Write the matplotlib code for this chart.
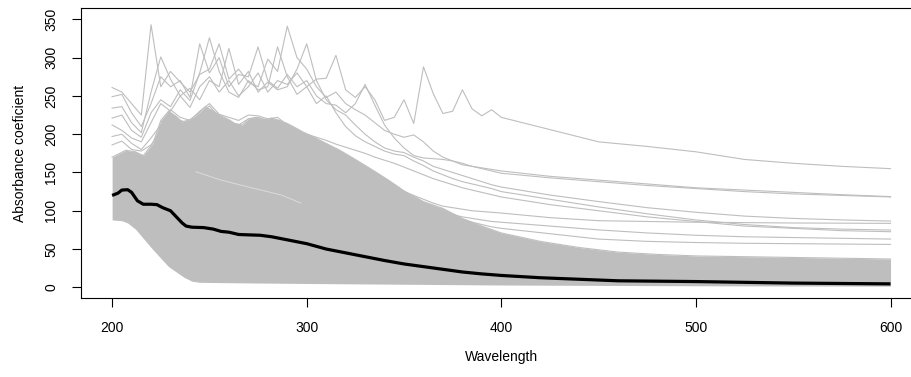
import numpy as np
import matplotlib
matplotlib.use('Agg')
import matplotlib.pyplot as plt

plt.rcParams['font.family'] = ['Liberation Sans', 'DejaVu Sans']

# sampled wavelengths for the individual spectra
wl_grid = np.concatenate([np.arange(200, 401, 5), np.arange(425, 601, 25)])
wl_late = wl_grid[wl_grid >= 300]
wl_early = wl_grid[wl_grid <= 300]

# spectra that stand out above the bulk
spec_a = [212, 205, 195, 190, 215, 240, 230, 250, 235, 262, 275, 255, 270, 250, 262, 280, 255, 270,
          265, 280, 262, 272, 273, 303, 258, 248, 262, 245, 218, 222, 245, 214, 288, 253, 227, 230,
          258, 233, 224, 232, 222,
          206, 190, 184, 177, 167, 162, 158, 155]
spec_b1 = [261, 255, 240, 225, 343, 262, 282, 268, 255, 278, 285, 318, 272, 285, 268, 262, 298, 282,
           341, 300, 285, 262, 248, 255, 240, 232, 225, 215, 205, 200, 196, 199, 190, 178, 170, 165,
           160, 158, 156, 154, 152,
           145, 140, 135, 130, 127, 124, 121, 118.5]
spec_b2 = [249, 252, 228, 210, 240, 275, 262, 270, 248, 318, 280, 300, 262, 278, 275, 314, 270, 260,
           278, 262, 270, 250, 240, 238, 228, 240, 265, 238, 212, 195, 182, 172, 169, 168, 167, 165,
           162, 158, 155, 152, 149,
           143, 138, 133, 129, 125, 122, 120, 118]
spec_c = [234, 236, 215, 202, 255, 301, 272, 250, 260, 245, 270, 262, 312, 265, 282, 255, 268, 258,
          262, 285, 318, 270, 245, 232, 225, 212, 200, 190, 182, 178, 176, 170, 165, 158, 154, 150,
          146, 142, 138, 134, 131,
          120.5, 112, 104, 98, 93, 90, 88, 86.5]
spec_d = [221, 225, 205, 196, 228, 245, 236, 258, 244, 280, 326, 282, 255, 248, 270, 258, 262, 314,
          275, 252, 262, 240, 250, 228, 210, 198, 190, 184, 178, 174, 172, 165, 159, 152, 147, 142,
          138, 135, 132, 129, 125,
          115, 105, 96, 88, 82, 78, 76, 74.8]
# spectra that leave the bulk after 300 nm
spec_e = [190, 186, 180, 175, 170, 162, 155, 148, 142, 134, 125, 120, 115, 110, 106, 104, 102, 100, 99, 98, 97,
          91, 87, 86, 85, 84.5, 84, 83.8, 83.5]
spec_f = [185, 180, 175, 168, 162, 155, 148, 141, 135, 127, 120, 114, 108, 103, 98, 95, 92, 90, 88, 86, 85,
          80, 75, 71, 68, 66, 65, 64, 63]
spec_g = [180, 174, 168, 161, 155, 148, 142, 136, 130, 122, 115, 109, 103, 99, 95, 91, 88, 85, 82, 79, 77,
          70, 63, 60, 58.5, 57.5, 57, 56.5, 56]
spec_h = [200, 196, 192, 187, 183, 179, 175, 170, 166, 162, 157, 152, 147, 142, 138, 134, 130, 127, 124, 121, 118,
          108, 100, 92, 86, 80, 77, 74, 72.6]
# spectra that sink into the bulk before 300 nm
spec_p = [197, 200, 188, 180, 195, 212, 232, 222, 218, 230, 240, 226, 222, 218, 225, 224, 220, 222, 212, 205, 198]
spec_q = [186, 191, 180, 178, 186, 205, 228, 218, 214, 226, 237, 222, 216, 212, 220, 222, 218, 218, 210, 203, 196]

# envelope of the dense bulk of spectra
band_top_wl = [200, 207, 212, 216, 221, 225, 229, 233, 236, 240, 244, 248, 252, 256, 260, 263, 267, 270,
               274, 278, 282, 286, 290, 293, 298, 303, 310, 317, 325, 334, 342, 350, 360, 370, 380, 390,
               400, 420, 440, 460, 480, 500, 550, 600]
band_top = [170, 179, 177, 172, 188, 218, 230, 223, 216, 219, 226, 236, 230, 224, 219, 214, 212, 220,
            222, 219, 221, 218, 214, 210, 203, 197, 188, 179, 167, 153, 140, 126, 112, 103, 90, 80,
            71, 60, 52, 46, 43, 41, 39, 37]
band_low_wl = [200, 205, 208, 212, 216, 220, 225, 229, 233, 237, 241, 245, 260, 300, 350, 400, 500, 600]
band_low = [88, 87, 84, 76, 64, 52, 38, 27, 20, 13, 8, 6.5, 6, 5, 4, 3, 2, 1.5]

# thin gap visible inside the bulk
gap_wl = [243, 256, 270, 287, 297]
gap_vals = [151, 140, 131, 120.5, 110]

# mean spectrum
mean_wl = [200, 203, 205, 208, 210, 213, 216, 220, 223, 226, 230, 233, 236, 238, 241, 247, 252, 256,
           260, 265, 270, 276, 282, 290, 300, 310, 320, 330, 340, 350, 360, 370, 380, 390, 400, 420,
           440, 460, 480, 500, 525, 550, 575, 600]
mean_vals = [120, 123, 127, 127.5, 124, 113, 108.5, 108.5, 108, 104, 100, 92, 84, 80, 78.5, 78, 76, 73,
             72, 69, 68.5, 68, 66, 62, 57, 50, 45, 40, 35, 30.5, 27, 23.5, 20, 17.5, 15.5, 12.5,
             10.5, 8.5, 8, 7.5, 6.5, 5.5, 5, 4.5]

grey = '#BEBEBE'

fig = plt.figure(figsize=(9.11, 3.77), dpi=100)
ax = fig.add_axes([0.0889, 0.2103, 0.9228, 0.7676])

xs = np.linspace(200, 600, 801)
top_i = np.interp(xs, band_top_wl, band_top)
low_i = np.interp(xs, band_low_wl, band_low)
ax.fill_between(xs, low_i, top_i, color=grey, lw=0)
ax.plot(band_top_wl, band_top, color=grey, lw=0.8)
ax.plot(gap_wl, gap_vals, color='white', lw=0.6, alpha=0.5)

for s in [spec_a, spec_b1, spec_b2, spec_c, spec_d]:
    ax.plot(wl_grid, s, color=grey, lw=0.8)
for s in [spec_e, spec_f, spec_g, spec_h]:
    ax.plot(wl_late, s, color=grey, lw=0.8)
for s in [spec_p, spec_q]:
    ax.plot(wl_early, s, color=grey, lw=0.8)

ax.plot(mean_wl, mean_vals, color='black', lw=2.3, solid_capstyle='butt')

ax.set_xlim(184, 616)
ax.set_ylim(-13.6, 364.4)
ax.set_xticks([200, 300, 400, 500, 600])
ax.set_yticks([0, 50, 100, 150, 200, 250, 300, 350])
for sp in ax.spines.values():
    sp.set_linewidth(0.8)
ax.tick_params(length=6.5, width=0.8, labelsize=10, pad=10)
plt.setp(ax.get_yticklabels(), rotation=90, va='center')
ax.set_xlabel('Wavelength', fontsize=10, labelpad=11)
ax.set_ylabel('Absorbance coeficient', fontsize=10, labelpad=12)

fig.savefig('out.png', dpi=100)
